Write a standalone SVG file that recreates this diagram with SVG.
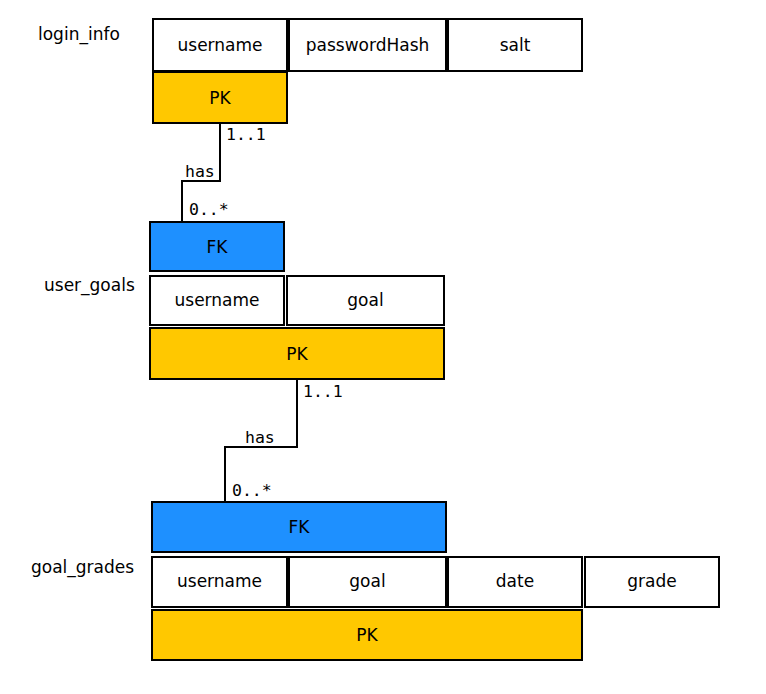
<svg xmlns="http://www.w3.org/2000/svg" width="766" height="694" viewBox="0 0 766 694">
<style>
  .cell { fill: #ffffff; stroke: #000000; stroke-width: 2; }
  .pk { fill: #ffc800; stroke: #000000; stroke-width: 2; }
  .fk { fill: #1e90ff; stroke: #000000; stroke-width: 2; }
  .t { font-family: "DejaVu Sans", "Liberation Sans", sans-serif; font-size: 17px; fill: #000000; text-anchor: middle; }
  .title { font-family: "DejaVu Sans", "Liberation Sans", sans-serif; font-size: 17px; fill: #000000; }
  .mono { font-family: "DejaVu Sans Mono", "Liberation Mono", monospace; font-size: 16.5px; fill: #000000; }
  .conn { fill: none; stroke: #000000; stroke-width: 2; }
</style>
<rect width="766" height="694" fill="#ffffff"/>

<g id="login_info">
  <text class="title" x="38" y="40">login_info</text>
  <rect class="cell" x="153" y="19" width="134" height="52"/>
  <text class="t" x="220" y="51">username</text>
  <rect class="cell" x="289" y="19" width="157" height="52"/>
  <text class="t" x="367.5" y="51">passwordHash</text>
  <rect class="cell" x="448" y="19" width="134" height="52"/>
  <text class="t" x="515" y="51">salt</text>
  <rect class="pk" x="153" y="72" width="134" height="51"/>
  <text class="t" x="220" y="104">PK</text>
</g>

<g id="user_goals">
  <text class="title" x="44" y="291">user_goals</text>
  <rect class="fk" x="150" y="222" width="134" height="49"/>
  <text class="t" x="217" y="253">FK</text>
  <rect class="cell" x="150" y="276" width="134" height="49"/>
  <text class="t" x="217" y="306">username</text>
  <rect class="cell" x="287" y="276" width="157" height="49"/>
  <text class="t" x="365.5" y="306">goal</text>
  <rect class="pk" x="150" y="328" width="294" height="51"/>
  <text class="t" x="297" y="360">PK</text>
</g>

<g id="goal_grades">
  <text class="title" x="31" y="573">goal_grades</text>
  <rect class="fk" x="152" y="502" width="294" height="50"/>
  <text class="t" x="299" y="533">FK</text>
  <rect class="cell" x="152" y="557" width="135" height="50"/>
  <text class="t" x="219.5" y="587">username</text>
  <rect class="cell" x="289" y="557" width="157" height="50"/>
  <text class="t" x="367.5" y="587">goal</text>
  <rect class="cell" x="448" y="557" width="134" height="50"/>
  <text class="t" x="515" y="587">date</text>
  <rect class="cell" x="585" y="557" width="134" height="50"/>
  <text class="t" x="652" y="587">grade</text>
  <rect class="pk" x="152" y="610" width="430" height="50"/>
  <text class="t" x="367" y="641">PK</text>
</g>

<g id="connectors">
  <path class="conn" d="M220,124 V181 H182 V221"/>
  <text class="mono" x="226" y="140">1..1</text>
  <text class="mono" x="185" y="177">has</text>
  <text class="mono" x="189" y="215">0..*</text>
  <path class="conn" d="M297,380 V447 H225 V501"/>
  <text class="mono" x="303" y="397">1..1</text>
  <text class="mono" x="245" y="443">has</text>
  <text class="mono" x="232" y="496">0..*</text>
</g>
</svg>
